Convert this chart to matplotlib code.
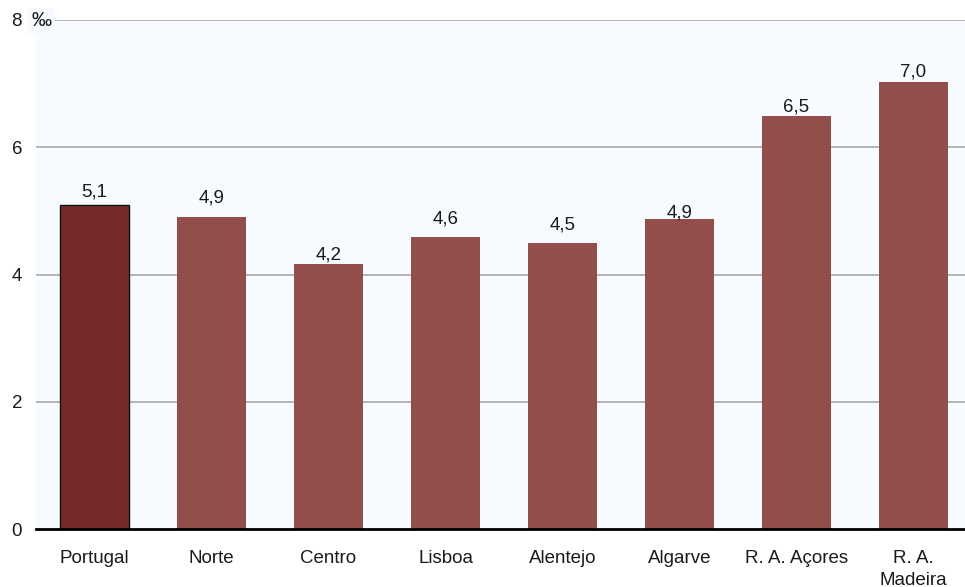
import matplotlib
matplotlib.use("Agg")
import matplotlib.pyplot as plt
from matplotlib.transforms import offset_copy

categories = ["Portugal", "Norte", "Centro", "Lisboa", "Alentejo", "Algarve",
              "R. A. Açores", "R. A.\nMadeira"]
values = [5.09, 4.90, 4.17, 4.59, 4.50, 4.87, 6.49, 7.03]
labels = ["5,1", "4,9", "4,2", "4,6", "4,5", "4,9", "6,5", "7,0"]
yticks = [0, 2, 4, 6, 8]

# style
label_offset_px = [13, 19, 9, 18, 18, 6, 9, 10]
bg = "#f7fafe"
col_main = "#772a2a"
col_other = "#924e4b"
txt = "#1a1a1a"
fs = 13.5

plt.rcParams['font.family'] = ['Liberation Sans', 'DejaVu Sans']

fig = plt.figure(figsize=(9.65, 5.87), dpi=100)
W, H = 965, 587
ax = fig.add_axes([36 / W, (H - 529) / H, (W - 36) / W, 509 / H])
ax.set_facecolor(bg)

x = list(range(len(categories)))
colors = [col_main] + [col_other] * (len(categories) - 1)
edges = ["#111111"] + ["none"] * (len(categories) - 1)
bars = ax.bar(x, values, width=0.59, color=colors, edgecolor=edges,
              linewidth=[1.0] + [0] * (len(categories) - 1), zorder=3)

ax.set_xlim(-0.5, -0.5 + 929 / 117)
ax.set_ylim(0, 8)
ax.set_yticks(yticks)
ax.set_yticklabels([str(v) for v in yticks])
ax.set_xticks(x)
ax.set_xticklabels(categories, linespacing=1.4)

for i, (v, lab) in enumerate(zip(values, labels)):
    tr = offset_copy(ax.transData, fig=fig, x=0, y=label_offset_px[i], units='dots')
    ax.text(i, v, lab, transform=tr, ha='center', va='center', fontsize=fs, color=txt, zorder=4)

for yv in yticks[1:]:
    ax.axhline(yv, color="#b5b5b8", linewidth=1.4, zorder=1)
ax.axhline(0, color="black", linewidth=2.0, zorder=5, clip_on=False)

for s in ax.spines.values():
    s.set_visible(False)
ax.tick_params(axis='both', length=0, labelsize=fs, labelcolor=txt)
ax.tick_params(axis='y', pad=10)
ax.tick_params(axis='x', pad=15)

fig.text(41.5 / W, 1 - 21 / H, "‰", ha='center', va='center', fontsize=14.5, color=txt,
         bbox=dict(facecolor=bg, edgecolor='none', pad=2.5))

fig.savefig("out.png", dpi=100, facecolor="white")
